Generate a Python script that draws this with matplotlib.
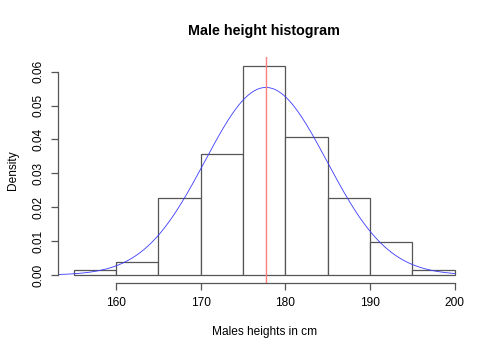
import numpy as np
import matplotlib
matplotlib.use("Agg")
import matplotlib.pyplot as plt

plt.rcParams['font.family'] = ['Liberation Sans', 'DejaVu Sans']

# histogram breaks (cm) and densities
breaks = [155, 160, 165, 170, 175, 180, 185, 190, 195, 200]
density = [0.0015, 0.0040, 0.0227, 0.0357, 0.0617, 0.0408, 0.0227, 0.0098, 0.0015]

# fitted normal curve parameters
height_mean = 177.7
height_sd = 7.21
curve_from = 153.2
curve_to = 200

x_ticks = [160, 170, 180, 190, 200]
y_ticks = [0.00, 0.01, 0.02, 0.03, 0.04, 0.05, 0.06]

fig = plt.figure(figsize=(5.0, 3.57), dpi=100)
ax = fig.add_axes([0.1168, 0.206, 0.94 - 0.1168, 0.839 - 0.206])

edges = np.array(breaks)
ax.bar(edges[:-1], density, width=np.diff(edges), align='edge',
       facecolor='white', edgecolor='#555555', linewidth=0.9)

xs = np.linspace(curve_from, curve_to, 300)
ys = np.exp(-0.5 * ((xs - height_mean) / height_sd) ** 2) / (height_sd * np.sqrt(2 * np.pi))
ax.plot(xs, ys, color='#3a3aff', linewidth=0.6)

ax.axvline(height_mean, color='#ff7f7f', linewidth=1.0)

# R-style limits: 4% padding around data range
ymax = max(density)
ax.set_xlim(breaks[0] - 0.04 * (breaks[-1] - breaks[0]), breaks[-1] + 0.04 * (breaks[-1] - breaks[0]))
ax.set_ylim(-0.04 * ymax, ymax * 1.04)

for s in ['top', 'right']:
    ax.spines[s].set_visible(False)
ax.spines['left'].set_bounds(y_ticks[0], y_ticks[-1])
ax.spines['bottom'].set_bounds(x_ticks[0], x_ticks[-1])
for s in ['left', 'bottom']:
    ax.spines[s].set_color('#555555')
    ax.spines[s].set_linewidth(0.9)

ax.set_xticks(x_ticks)
ax.set_xticklabels([str(v) for v in x_ticks])
ax.set_yticks(y_ticks)
ax.set_yticklabels([f"{v:.2f}" for v in y_ticks], rotation=90, va='center')
ax.tick_params(axis='both', length=5, width=0.9, color='#555555',
               labelsize=8.6, pad=5)

ax.set_xlabel("Males heights in cm", fontsize=8.6, labelpad=12)
ax.set_ylabel("Density", fontsize=8.6, labelpad=10)
ax.set_title("Male height histogram", fontsize=10.3, fontweight='bold', pad=16)

fig.savefig("out.png", dpi=100)
